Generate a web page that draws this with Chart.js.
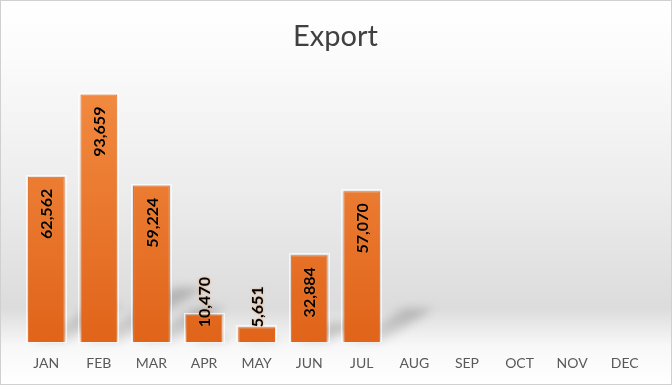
<!DOCTYPE html>
<html>
<head>
<meta charset="utf-8">
<script src="https://cdn.jsdelivr.net/npm/chart.js@4/dist/chart.umd.min.js"></script>
<style>
html,body{margin:0;padding:0;background:#fff;}
#wrap{position:relative;width:672px;height:385px;}
canvas{display:block;}
</style>
</head>
<body>
<div id="wrap"><canvas id="c" width="672" height="385"></canvas></div>
<script>
const categories = ['JAN','FEB','MAR','APR','MAY','JUN','JUL','AUG','SEP','OCT','NOV','DEC'];
const exportValues = [62562, 93659, 59224, 10470, 5651, 32884, 57070, null, null, null, null, null];
const chartTitle = 'Export';
const yMax = 100000;

const bgPlugin = {
  id: 'bg',
  beforeDraw(chart) {
    const ctx = chart.ctx, w = chart.width, h = chart.height;
    ctx.save();
    const g = ctx.createLinearGradient(0, 0, 0, h);
    g.addColorStop(0, '#ffffff');
    g.addColorStop(0.15, '#fbfbfb');
    g.addColorStop(0.5, '#ececec');
    g.addColorStop(0.8, '#dcdcdc');
    g.addColorStop(0.9, '#f8f8f8');
    g.addColorStop(1, '#ffffff');
    ctx.fillStyle = g;
    ctx.fillRect(0, 0, w, h);
    ctx.strokeStyle = '#d0d0d0';
    ctx.lineWidth = 1;
    ctx.strokeRect(0.5, 0.5, w - 1, h - 1);
    ctx.restore();
  }
};

const shadowPlugin = {
  id: 'shadows',
  beforeDatasetsDraw(chart) {
    const ctx = chart.ctx;
    const meta = chart.getDatasetMeta(0);
    ctx.save();
    ctx.filter = 'blur(5px)';
    meta.data.forEach((bar, i) => {
      if (exportValues[i] == null) return;
      const p = bar.getProps(['x','y','base','width'], true);
      const h = p.base - p.y;
      const l = p.x - p.width / 2, r = p.x + p.width / 2;
      const dx = 0.35 * h, dy = 0.22 * h;
      const g = ctx.createLinearGradient(0, p.base, 0, p.base - dy);
      g.addColorStop(0, 'rgba(90,90,90,0.15)');
      g.addColorStop(1, 'rgba(90,90,90,0.35)');
      ctx.fillStyle = g;
      ctx.beginPath();
      ctx.moveTo(l + 4, p.base);
      ctx.lineTo(r, p.base);
      ctx.lineTo(r + dx, p.base - dy);
      ctx.lineTo(l + dx + 8, p.base - dy);
      ctx.closePath();
      ctx.fill();
    });
    ctx.restore();
    ctx.save();
    ctx.strokeStyle = 'rgba(255,255,255,0.7)';
    ctx.lineWidth = 1;
    meta.data.forEach((bar, i) => {
      if (exportValues[i] == null) return;
      const p = bar.getProps(['x','y','base','width'], true);
      ctx.strokeRect(Math.round(p.x - p.width / 2) - 1.5, Math.round(p.y) - 1.5, Math.round(p.width) + 3, p.base - p.y + 1.5);
    });
    ctx.restore();
  }
};

const labelPlugin = {
  id: 'vlabels',
  afterDatasetsDraw(chart) {
    const ctx = chart.ctx;
    const meta = chart.getDatasetMeta(0);
    ctx.save();
    ctx.font = 'bold 16px Lato, "Open Sans", sans-serif';
    ctx.fillStyle = '#000000';
    ctx.textBaseline = 'middle';
    meta.data.forEach((bar, i) => {
      const v = exportValues[i];
      if (v == null) return;
      const p = bar.getProps(['x','y','base'], true);
      const txt = v.toLocaleString('en-US');
      const tw = ctx.measureText(txt).width;
      let bottom = p.y + 12 + tw;
      if (bottom > p.base - 4) {
        bottom = Math.min(p.y + 13, p.base - 15);
      }
      ctx.save();
      ctx.translate(p.x + 1, bottom);
      ctx.rotate(-Math.PI / 2);
      ctx.textAlign = 'left';
      ctx.shadowColor = 'rgba(240,140,60,0.9)';
      ctx.shadowBlur = 2;
      ctx.fillText(txt, 0, 0);
      ctx.restore();
    });
    ctx.restore();
  }
};

const ctx = document.getElementById('c').getContext('2d');
const barGrad = (context) => {
  const chart = context.chart;
  const area = chart.chartArea;
  if (!area) return '#EC7A30';
  const g = chart.ctx.createLinearGradient(0, area.top, 0, area.bottom);
  g.addColorStop(0, '#F28C42');
  g.addColorStop(1, '#E0641A');
  return g;
};

new Chart(ctx, {
  type: 'bar',
  data: {
    labels: categories,
    datasets: [{
      label: chartTitle,
      data: exportValues,
      backgroundColor: barGrad,
      borderColor: '#E2681E',
      borderWidth: 1,
      barPercentage: 0.7,
      categoryPercentage: 1.0
    }]
  },
  options: {
    responsive: false,
    animation: false,
    devicePixelRatio: 1,
    layout: { padding: { left: 20, right: 21, top: 0, bottom: 0 } },
    plugins: {
      legend: { display: false },
      tooltip: { enabled: false },
      title: {
        display: true,
        text: chartTitle,
        color: '#404040',
        font: { family: 'Lato, "Open Sans", sans-serif', size: 29, weight: 'normal' },
        padding: { top: 19, bottom: 24 }
      }
    },
    scales: {
      x: {
        grid: { display: false, drawTicks: false },
        border: { display: false },
        ticks: {
          color: '#595959',
          font: { family: 'Lato, "Open Sans", sans-serif', size: 14 },
          padding: 13,
          maxRotation: 0,
          autoSkip: false
        }
      },
      y: {
        display: false,
        min: 0,
        max: yMax
      }
    }
  },
  plugins: [bgPlugin, shadowPlugin, labelPlugin]
});
</script>
</body>
</html>
